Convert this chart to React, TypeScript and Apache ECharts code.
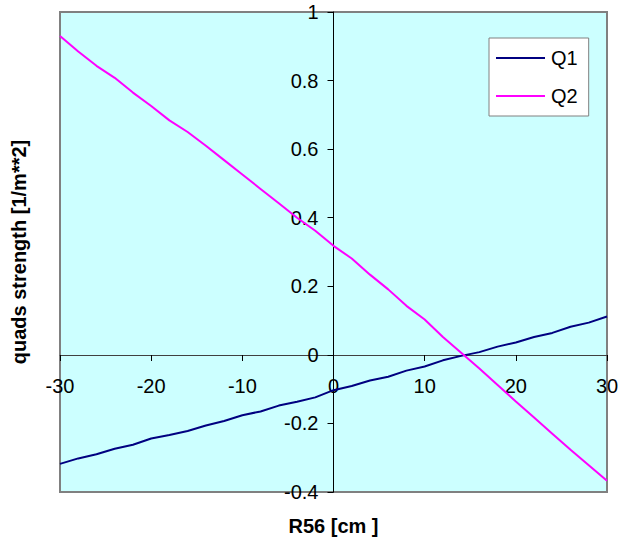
import React, { useEffect, useRef } from "react";
import * as echarts from "echarts";

const r56 = [-30, -28, -26, -24, -22, -20, -18, -16, -14, -12, -10, -8, -6, -4, -2, 0, 2, 4, 6, 8, 10, 12, 14, 16, 18, 20, 22, 24, 26, 28, 30];
const q1 = [-0.318, -0.302, -0.29, -0.274, -0.262, -0.244, -0.234, -0.222, -0.206, -0.193, -0.176, -0.165, -0.148, -0.137, -0.124, -0.103, -0.091, -0.075, -0.064, -0.046, -0.034, -0.016, -0.003, 0.008, 0.024, 0.036, 0.052, 0.064, 0.082, 0.094, 0.112];
const q2 = [0.93, 0.885, 0.843, 0.808, 0.765, 0.726, 0.684, 0.65, 0.61, 0.568, 0.526, 0.484, 0.442, 0.4, 0.362, 0.318, 0.281, 0.234, 0.191, 0.143, 0.103, 0.052, 0.006, -0.04, -0.088, -0.136, -0.183, -0.23, -0.277, -0.322, -0.367];
const seriesNames = ["Q1", "Q2"];
const xTitle = "R56 [cm ]";
const yTitle = "quads strength [1/m**2]";

const FONT = "Liberation Sans, Arial, sans-serif";

export default function App() {
  const ref = useRef<HTMLDivElement>(null);
  useEffect(() => {
    if (!ref.current) return;
    const chart = echarts.init(ref.current, undefined, { renderer: "svg" });
    chart.setOption({
      animation: false,
      textStyle: { fontFamily: FONT },
      grid: {
        left: 60,
        right: 11,
        top: 12,
        bottom: 52,
        containLabel: false,
        outerBoundsMode: "none",
        show: true,
        backgroundColor: "#CCFFFF",
        borderColor: "#808080",
        borderWidth: 2,
      },
      legend: {
        orient: "vertical",
        left: 489,
        top: 38,
        data: seriesNames,
        icon: "rect",
        itemWidth: 49,
        itemHeight: 2,
        itemGap: 18,
        padding: [10, 11, 10, 7],
        backgroundColor: "#FFFFFF",
        borderColor: "#808080",
        borderWidth: 1,
        textStyle: { fontFamily: FONT, fontSize: 20, color: "#000", padding: [0, 0, 0, 1] },
      },
      xAxis: {
        type: "value",
        position: "bottom",
        offset: -137,
        min: -30,
        max: 30,
        interval: 10,
        name: xTitle,
        nameLocation: "middle",
        nameGap: 161,
        nameTextStyle: { fontFamily: FONT, fontSize: 20, fontWeight: "bold", color: "#000" },
        axisLine: { onZero: false, lineStyle: { color: "#404040", width: 1 } },
        axisTick: { show: true, length: 6, lineStyle: { color: "#000" } },
        axisLabel: { fontFamily: FONT, fontSize: 20, color: "#000", margin: 21 },
        splitLine: { show: false },
      },
      yAxis: {
        type: "value",
        position: "left",
        offset: -273.5,
        min: -0.4,
        max: 1,
        interval: 0.2,
        name: yTitle,
        nameLocation: "middle",
        nameGap: 305,
        nameRotate: 90,
        nameTextStyle: { fontFamily: FONT, fontSize: 20, fontWeight: "bold", color: "#000" },
        axisLine: { onZero: false, lineStyle: { color: "#000", width: 1 } },
        axisTick: { show: true, length: 6, lineStyle: { color: "#000" } },
        axisLabel: { fontFamily: FONT, fontSize: 20, color: "#000", margin: 15 },
        splitLine: { show: false },
      },
      series: [
        {
          name: seriesNames[0],
          type: "line",
          data: r56.map((x, i) => [x, q1[i]]),
          showSymbol: false,
          symbol: "none",
          lineStyle: { color: "#000080", width: 2 },
          itemStyle: { color: "#000080" },
        },
        {
          name: seriesNames[1],
          type: "line",
          data: r56.map((x, i) => [x, q2[i]]),
          showSymbol: false,
          symbol: "none",
          lineStyle: { color: "#FF00FF", width: 2 },
          itemStyle: { color: "#FF00FF" },
        },
      ],
    });
    return () => chart.dispose();
  }, []);
  return (
    <div
      ref={ref}
      style={{ position: "fixed", left: 0, top: 0, width: 618, height: 544, background: "#fff" }}
    />
  );
}
